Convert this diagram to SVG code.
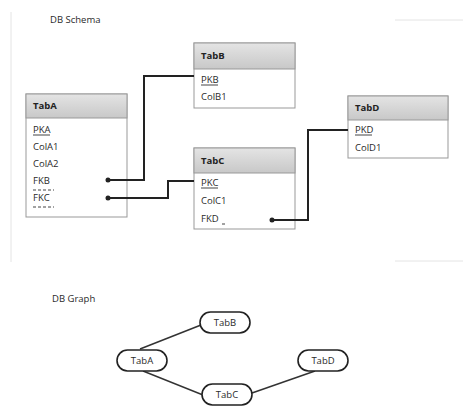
<svg xmlns="http://www.w3.org/2000/svg" width="463" height="412" viewBox="0 0 463 412">
<defs>
<linearGradient id="hdr" x1="0" y1="0" x2="0" y2="1">
<stop offset="0" stop-color="#e4e4e4"/><stop offset="1" stop-color="#c8c8c8"/>
</linearGradient>
<marker id="dot" markerWidth="6" markerHeight="6" refX="3" refY="3" markerUnits="userSpaceOnUse"><circle cx="3" cy="3" r="2.5" fill="#222"/></marker>
</defs>
<style>
text{font-family:"Open Sans","Liberation Sans",sans-serif;font-size:9.5px;fill:#2a2a2a}
.h{font-weight:bold;fill:#222}
.box{fill:#fff;stroke:#999;stroke-width:1}
.head{fill:url(#hdr);stroke:#999;stroke-width:1}
.conn{fill:none;stroke:#222;stroke-width:2}
.u{stroke:#444;stroke-width:1}
.d{stroke:#444;stroke-width:1;stroke-dasharray:3 2}
.pill{fill:#fff;stroke:#222;stroke-width:1.6}
.edge{stroke:#333;stroke-width:1.5}
.frame{fill:none;stroke:#e4e4e4;stroke-width:1}
</style>
<rect width="463" height="412" fill="#fff"/>
<path class="frame" d="M11,12 V262 M395,20 H463 M395,261 H463"/>
<text x="50" y="23">DB Schema</text>

<g id="TabA">
<rect class="box" x="26" y="94" width="101" height="123"/>
<rect class="head" x="26" y="94" width="101" height="24"/>
<text class="h" x="33" y="109">TabA</text>
<text x="33" y="133">PKA</text><line class="u" x1="33" y1="135" x2="50" y2="135"/>
<text x="33" y="150">ColA1</text>
<text x="33" y="167">ColA2</text>
<text x="33" y="184">FKB</text><line class="d" x1="33" y1="190" x2="54" y2="190"/>
<text x="33" y="201">FKC</text><line class="d" x1="33" y1="207" x2="54" y2="207"/>
</g>

<g id="TabB">
<rect class="box" x="194" y="43" width="101" height="65"/>
<rect class="head" x="194" y="43" width="101" height="26"/>
<text class="h" x="201" y="59">TabB</text>
<text x="201" y="83">PKB</text><line class="u" x1="201" y1="85" x2="218" y2="85"/>
<text x="201" y="100">ColB1</text>
</g>

<g id="TabC">
<rect class="box" x="194" y="148" width="101" height="81"/>
<rect class="head" x="194" y="148" width="101" height="25"/>
<text class="h" x="201" y="164">TabC</text>
<text x="201" y="186">PKC</text><line class="u" x1="201" y1="188" x2="218" y2="188"/>
<text x="201" y="204">ColC1</text>
<text x="201" y="222">FKD</text><line class="d" x1="222" y1="224" x2="227" y2="224"/>
</g>

<g id="TabD">
<rect class="box" x="348" y="96" width="100" height="62"/>
<rect class="head" x="348" y="96" width="100" height="24"/>
<text class="h" x="355" y="111">TabD</text>
<text x="355" y="133">PKD</text><line class="u" x1="355" y1="135" x2="372" y2="135"/>
<text x="355" y="151">ColD1</text>
</g>

<g id="connectors">
<polyline class="conn" points="194,76 144,76 144,180 108,180" marker-end="url(#dot)"/>
<polyline class="conn" points="194,181 168,181 168,198 108,198" marker-end="url(#dot)"/>
<polyline class="conn" points="348,130 308,130 308,220 272,220" marker-end="url(#dot)"/>
</g>

<text x="52" y="302">DB Graph</text>
<g id="graph-edges">
<line class="edge" x1="140" y1="349" x2="201" y2="325"/>
<line class="edge" x1="143" y1="371" x2="203" y2="395"/>
<line class="edge" x1="252" y1="393" x2="315" y2="371"/>
</g>
<g id="gTabB"><rect class="pill" x="200" y="312" width="50" height="21" rx="10.5"/><text x="225" y="326" text-anchor="middle">TabB</text></g>
<g id="gTabA"><rect class="pill" x="117" y="350" width="50" height="21" rx="10.5"/><text x="142" y="364" text-anchor="middle">TabA</text></g>
<g id="gTabD"><rect class="pill" x="298" y="350" width="50" height="21" rx="10.5"/><text x="323" y="364" text-anchor="middle">TabD</text></g>
<g id="gTabC"><rect class="pill" x="202" y="384" width="50" height="21" rx="10.5"/><text x="227" y="398" text-anchor="middle">TabC</text></g>
</svg>
